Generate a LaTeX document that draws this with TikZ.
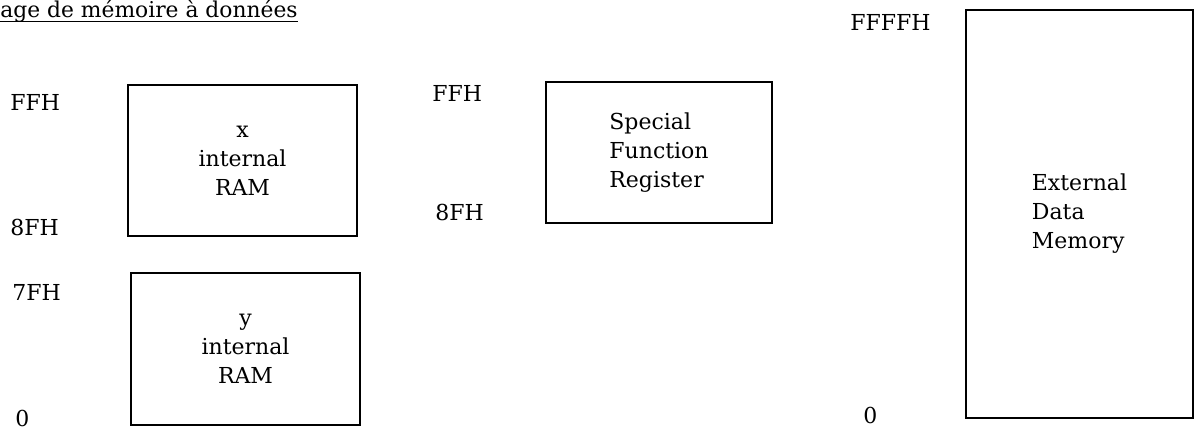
\documentclass[tikz,border=0pt]{standalone}
\usepackage{fontspec}
\setmainfont{DejaVu Serif}
\usepackage{tikz}
\usetikzlibrary{positioning}

\begin{document}
\begin{tikzpicture}[x=0.5pt,y=-0.5pt,
  mem/.style={draw,line width=0.8pt,align=center,font=\fontsize{11}{14.5}\selectfont},
  addr/.style={anchor=west,inner sep=0pt,font=\fontsize{11}{14.5}\selectfont}]
\useasboundingbox (0,0) rectangle (1201,432);
\node[anchor=base west,inner sep=0pt,font=\fontsize{10.9}{13}\selectfont] (title) at (0,17.5) {age de mémoire à données};
\draw[line width=0.9pt] ([yshift=-2pt]title.base west) -- ([yshift=-2pt]title.base east);
% internal RAM
\node[mem,minimum width=114.5pt,minimum height=75.5pt] (xram) at (242.5,160.5) {x\\internal\\RAM};
\node[mem,minimum width=114.5pt,minimum height=76pt] (yram) at (245.5,349) {y\\internal\\RAM};
\node[addr] (xtop) at (10,102) {FFH};
\node[addr] (xbot) at (10,227) {8FH};
\node[addr] (ytop) at (12,292) {7FH};
\node[addr] (ybot) at (15,418) {0};
% SFR
\node[mem,align=left,minimum width=113pt,minimum height=70.5pt] (sfr) at (659,152.5) {Special\\Function\\Register};
\node[addr] (sfrtop) at (432,93) {FFH};
\node[addr] (sfrbot) at (435,212) {8FH};
% external
\node[mem,align=left,minimum width=113.5pt,minimum height=204pt] (ext) at (1079.5,214) {External\\Data\\Memory};
\node[addr] (exttop) at (850,22) {FFFFH};
\node[addr] (extbot) at (863,415) {0};
\end{tikzpicture}
\end{document}
